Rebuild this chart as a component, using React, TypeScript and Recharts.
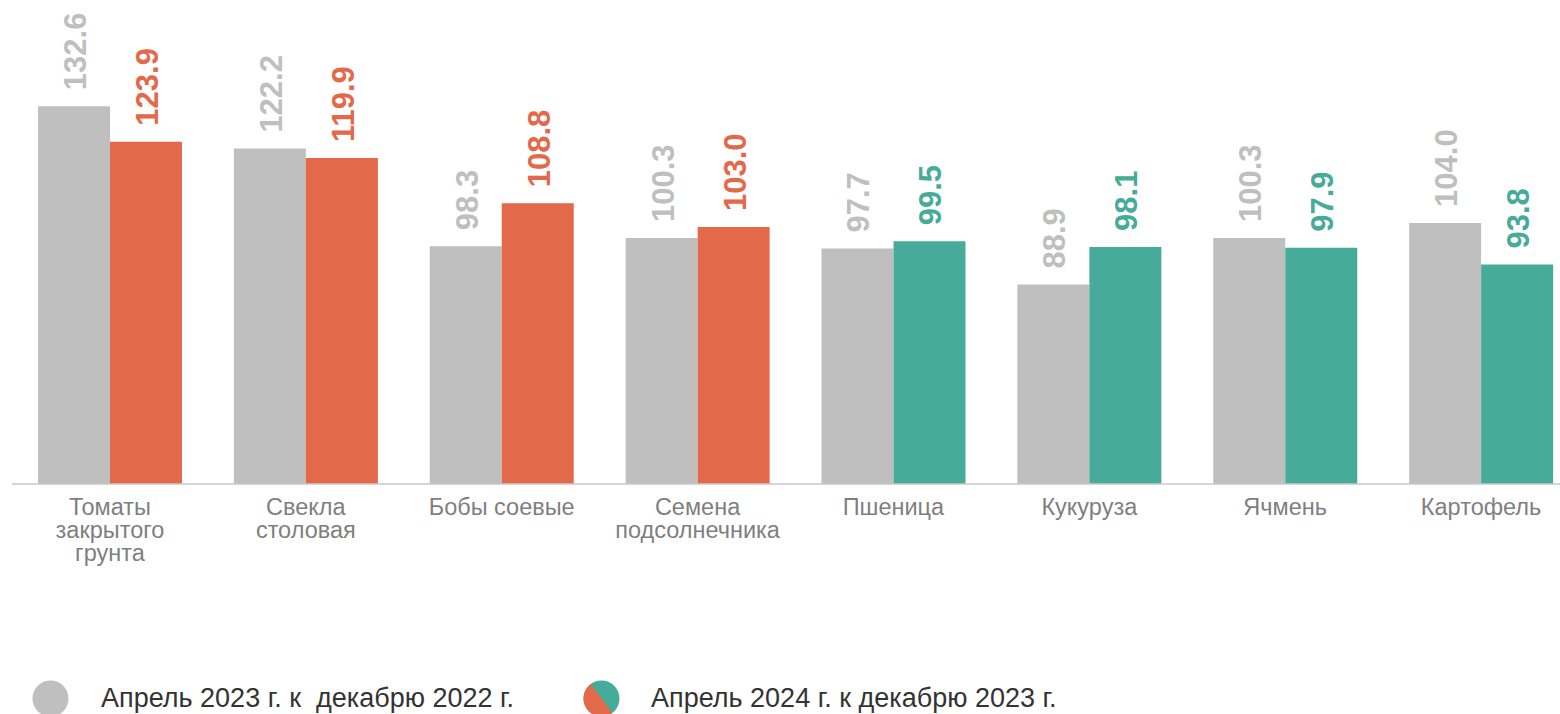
import { BarChart, Bar, XAxis, YAxis, Cell, LabelList } from 'recharts'

const categories = [
  'Томаты\nзакрытого\nгрунта',
  'Свекла\nстоловая',
  'Бобы соевые',
  'Семена\nподсолнечника',
  'Пшеница',
  'Кукуруза',
  'Ячмень',
  'Картофель',
]
const prevValues = [132.6, 122.2, 98.3, 100.3, 97.7, 88.9, 100.3, 104.0]
const currValues = [123.9, 119.9, 108.8, 103.0, 99.5, 98.1, 97.9, 93.8]
const legendLabels = ['Апрель 2023 г. к  декабрю 2022 г.', 'Апрель 2024 г. к декабрю 2023 г.']

const GRAY = '#bfbfbf'
const RED = '#e3694a'
const TEAL = '#46ab99'
const FONT = '"Liberation Sans", Arial, sans-serif'

const data = categories.map((name, i) => ({ name, prev: prevValues[i], curr: currValues[i] }))
const currColor = (v: number) => (v > 100 ? RED : TEAL)

// eslint-disable-next-line @typescript-eslint/no-explicit-any
const CategoryTick = ({ x, y, payload }: any) => {
  const lines = String(payload.value).split('\n')
  return (
    <text x={x} y={y} textAnchor="middle" fill="#7f7f7f" fontSize={23.5} fontFamily={FONT}>
      {lines.map((l, i) => (
        <tspan key={i} x={x} y={y + 31 + i * 23}>{l}</tspan>
      ))}
    </text>
  )
}

const makeLabel = (colorOf: (v: number) => string) =>
  // eslint-disable-next-line @typescript-eslint/no-explicit-any
  (props: any) => {
    const { x, y, width, value } = props
    const cx = Number(x) + Number(width) / 2 + 12
    const ty = Number(y) - 16
    return (
      <text
        x={cx}
        y={ty}
        transform={`rotate(-90 ${cx} ${ty})`}
        textAnchor="start"
        fill={colorOf(Number(value))}
        fontSize={31}
        fontWeight="bold"
        fontFamily={FONT}
      >
        {Number(value).toFixed(1)}
      </text>
    )
  }

function SplitDot() {
  const r = 18
  const c = 18.5
  const p1 = [c + r * 0.6, c + r * 0.8]
  const p2 = [c - r * 0.6, c - r * 0.8]
  return (
    <svg width={37} height={37}>
      <circle cx={c} cy={c} r={r} fill={TEAL} />
      <path d={`M${p1[0]},${p1[1]} A${r},${r} 0 0 1 ${p2[0]},${p2[1]} Z`} fill={RED} />
    </svg>
  )
}

const legendText = { position: 'absolute' as const, top: 683, fontFamily: FONT, fontSize: 27, color: '#333', whiteSpace: 'pre' as const, lineHeight: '31px' }

export default function App() {
  return (
    <div style={{ position: 'absolute', left: 0, top: 0, width: 1560, height: 714, overflow: 'hidden', background: '#fff' }}>
      <BarChart
        width={1600}
        height={714}
        data={data}
        margin={{ top: 76, right: 21, left: 12, bottom: 140 }}
        barGap={0}
        barSize={72}
      >
        <XAxis
          dataKey="name"
          interval={0}
          height={90}
          tickLine={false}
          tickSize={0}
          tickMargin={0}
          axisLine={{ stroke: '#c8c8c8', strokeWidth: 1.5 }}
          tick={<CategoryTick />}
        />
        <YAxis hide domain={[40, 140]} />
        <Bar dataKey="prev" fill={GRAY} isAnimationActive={false}>
          <LabelList dataKey="prev" content={makeLabel(() => GRAY)} />
        </Bar>
        <Bar dataKey="curr" isAnimationActive={false}>
          {currValues.map((v, i) => (
            <Cell key={i} fill={currColor(v)} />
          ))}
          <LabelList dataKey="curr" content={makeLabel(currColor)} />
        </Bar>
      </BarChart>
      <div style={{ position: 'absolute', left: 32, top: 680, width: 37, height: 37 }}>
        <svg width={37} height={37}>
          <circle cx={18.5} cy={18.5} r={18} fill={GRAY} />
        </svg>
      </div>
      <div style={{ ...legendText, left: 101 }}>{legendLabels[0]}</div>
      <div style={{ position: 'absolute', left: 583, top: 680, width: 37, height: 37 }}>
        <SplitDot />
      </div>
      <div style={{ ...legendText, left: 651 }}>{legendLabels[1]}</div>
    </div>
  )
}
